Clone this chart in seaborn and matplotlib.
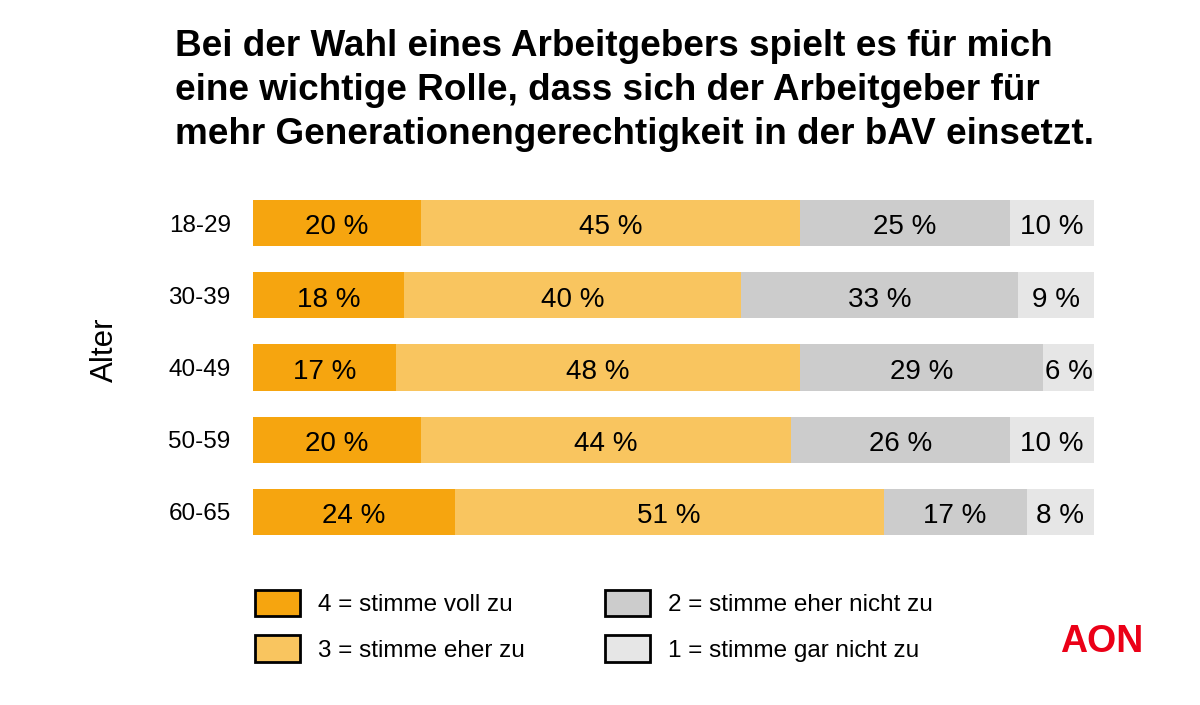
import numpy as np
import pandas as pd
import matplotlib
matplotlib.use("Agg")
import matplotlib.pyplot as plt
import seaborn as sns
from matplotlib.patches import Patch

# === DATA ===
age_groups = ["18-29", "30-39", "40-49", "50-59", "60-65"]
voll_zu = [20, 18, 17, 20, 24]
eher_zu = [45, 40, 48, 44, 51]
eher_nicht_zu = [25, 33, 29, 26, 17]
gar_nicht_zu = [10, 9, 6, 10, 8]

series_labels = ["4 = stimme voll zu", "3 = stimme eher zu",
                 "2 = stimme eher nicht zu", "1 = stimme gar nicht zu"]
series_colors = ["#F6A50F", "#F9C55F", "#CCCCCC", "#E6E6E6"]

title = ("Bei der Wahl eines Arbeitgebers spielt es für mich\n"
         "eine wichtige Rolle, dass sich der Arbeitgeber für\n"
         "mehr Generationengerechtigkeit in der bAV einsetzt.")

# === SETUP ===
sns.set_theme(style="white")
plt.rcParams['font.family'] = ['Liberation Sans', 'DejaVu Sans']
plt.rcParams['text.color'] = 'black'
plt.rcParams['ytick.color'] = 'black'

df = pd.DataFrame({"Alter": age_groups, "s4": voll_zu, "s3": eher_zu,
                   "s2": eher_nicht_zu, "s1": gar_nicht_zu})
cols = ["s4", "s3", "s2", "s1"]
cum = df[cols].cumsum(axis=1)

fig = plt.figure(figsize=(12, 7.05), dpi=100)
ax = fig.add_axes([0.2108, 0.2227, 0.7008, 0.5121])

# stacked bars: draw cumulative totals from the largest down
for col, color in reversed(list(zip(cols, series_colors))):
    sns.barplot(x=cum[col], y=df["Alter"], color=color, width=0.64,
                saturation=1, orient="h", ax=ax, linewidth=0)

# value labels in the middle of every segment
for i in range(len(df)):
    left = 0
    for col in cols:
        v = df.loc[i, col]
        ax.text(left + v / 2, i + 0.06, f"{v} %", ha="center", va="center",
                fontsize=20, color="black")
        left += v

ax.set_xlim(0, 100)
ax.set_ylim(4.5, -0.5)
ax.set_xticks([])
ax.set_xlabel("")
ax.set_ylabel("")
ax.tick_params(axis="y", length=0, pad=16, labelsize=17.5, labelcolor="black")
for s in ax.spines.values():
    s.set_visible(False)

fig.text(105 / 1200, 1 - 350 / 705, "Alter", rotation=90, ha="center",
         va="center", fontsize=22.5)

fig.text(175 / 1200, 1 - 29 / 705, title, ha="left", va="top",
         fontsize=26.6, fontweight="bold", linespacing=1.33)

# === LEGEND ===
handles = [Patch(facecolor=c, edgecolor="black", linewidth=2) for c in series_colors]
fig.legend(handles, series_labels, ncol=2, frameon=False, fontsize=17.5,
           loc="upper left", bbox_to_anchor=(255 / 1200, 1 - 590 / 705),
           handlelength=1.85, handleheight=1.3, handletextpad=0.75,
           columnspacing=3.3, labelspacing=0.77, borderaxespad=0, borderpad=0)

fig.text(1102 / 1200, 1 - 642 / 705, "AON", ha="center", va="center",
         fontsize=27, fontweight="bold", color="#EB0017")

plt.savefig("out.png", dpi=100)
plt.close()
